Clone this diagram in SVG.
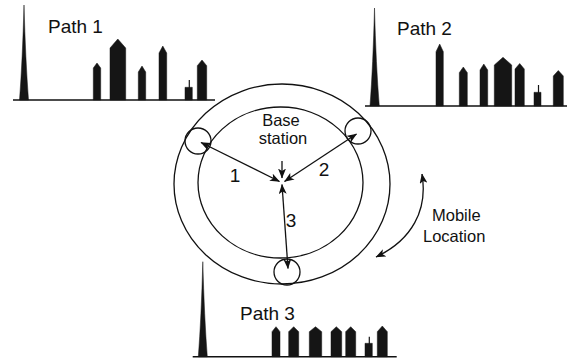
<svg xmlns="http://www.w3.org/2000/svg" width="577" height="362" viewBox="0 0 577 362">
  <style>
    .lbl { font-family: "Liberation Sans", Arial, Helvetica, sans-serif; fill: #111; }
    .ring { fill: none; stroke: #111; stroke-width: 1.3; }
    .axis { stroke: #111; stroke-width: 1.6; fill: none; }
    .pulse { fill: #151515; stroke: #151515; stroke-width: 0.5; stroke-linejoin: round; }
    .tick { stroke: #151515; stroke-width: 1.2; }
    .conn { fill: none; stroke: #111; stroke-width: 1.3; }
  </style>
  <defs>
    <marker id="head" viewBox="0 0 10 8" refX="9.5" refY="4" markerWidth="10" markerHeight="8" markerUnits="userSpaceOnUse" orient="auto-start-reverse">
      <path d="M0,0 L10,4 L0,8 L2.5,4 Z" fill="#111"/>
    </marker>
  </defs>

  <rect width="577" height="362" fill="#fff"/>

  <!-- coverage ring around the base station -->
  <g id="ring">
    <ellipse class="ring" cx="282" cy="184" rx="108" ry="100"/>
    <ellipse class="ring" cx="280.5" cy="182.5" rx="82.5" ry="75.5"/>
  </g>

  <!-- power delay profile, path 1 -->
  <g id="path1">
    <line class="axis" x1="13" y1="100" x2="215" y2="100"/>
    <path class="pulse" d="M19.5,100 Q22.5,60 24,5 Q25.5,60 28.5,100 Z"/>
    <path class="pulse" d="M93.3,100 V68 L97,63 L100.7,68 V100 Z"/>
    <path class="pulse" d="M110,100 V48 L117.8,39 L125.7,48 V100 Z"/>
    <path class="pulse" d="M138.3,100 V72 L142,66 L145.7,72 V100 Z"/>
    <path class="pulse" d="M159,100 V53 L162.8,46 L166.7,53 V100 Z"/>
    <rect class="pulse" x="185" y="87.3" width="7.3" height="12.7"/>
    <line class="tick" x1="189.3" y1="80" x2="189.3" y2="88"/>
    <path class="pulse" d="M197.3,100 V65.7 L202,60 L206.7,65.7 V100 Z"/>
    <text class="lbl" x="48" y="33" font-size="19">Path 1</text>
  </g>

  <!-- power delay profile, path 2 -->
  <g id="path2">
    <line class="axis" x1="365" y1="106" x2="567" y2="106"/>
    <path class="pulse" d="M370,106 Q373,66 374.5,8 Q376,66 379.3,106 Z"/>
    <path class="pulse" d="M436,106 V51.7 L439.7,44 L443.3,51.7 V106 Z"/>
    <path class="pulse" d="M459.3,106 V72.7 L463.3,67 L467.3,72.7 V106 Z"/>
    <path class="pulse" d="M480,106 V70 L483.8,64 L487.7,70 V106 Z"/>
    <path class="pulse" d="M494.3,106 V65 L503,57.3 L511.7,65 V106 Z"/>
    <path class="pulse" d="M515,106 V69 L519.7,63.5 L524.3,69 V106 Z"/>
    <rect class="pulse" x="534" y="92.3" width="7" height="13.7"/>
    <line class="tick" x1="538.5" y1="85" x2="538.5" y2="93"/>
    <path class="pulse" d="M553.3,106 V76 L558.3,70.5 L563.3,76 V106 Z"/>
    <text class="lbl" x="397" y="35" font-size="19">Path 2</text>
  </g>

  <!-- power delay profile, path 3 -->
  <g id="path3">
    <line class="axis" x1="192.7" y1="356.7" x2="396.7" y2="356.7"/>
    <path class="pulse" d="M198.3,356.7 Q201.3,318 202.8,261.7 Q204.3,318 207.3,356.7 Z"/>
    <path class="pulse" d="M272,356.7 V331.7 L276,326.7 L280,331.7 V356.7 Z"/>
    <path class="pulse" d="M288.7,356.7 V331.7 L293.7,326.7 L298.7,331.7 V356.7 Z"/>
    <path class="pulse" d="M309.3,356.7 V331.7 L315.5,326.7 L321.7,331.7 V356.7 Z"/>
    <path class="pulse" d="M331,356.7 V331.7 L336.3,326.7 L341.7,331.7 V356.7 Z"/>
    <path class="pulse" d="M345.7,356.7 V331.7 L350.7,326.7 L355.7,331.7 V356.7 Z"/>
    <rect class="pulse" x="365" y="343.3" width="7.3" height="13.4"/>
    <line class="tick" x1="369.3" y1="336.7" x2="369.3" y2="344"/>
    <path class="pulse" d="M377.3,356.7 V331.7 L382.3,326 L387.3,331.7 V356.7 Z"/>
    <text class="lbl" x="240" y="320" font-size="19">Path 3</text>
  </g>

  <!-- mobile positions on the ring -->
  <g id="mobile1"><circle class="ring" cx="198" cy="141" r="13"/></g>
  <g id="mobile2"><circle class="ring" cx="358" cy="131" r="13"/></g>
  <g id="mobile3"><circle class="ring" cx="287" cy="272" r="13"/></g>

  <!-- base station label -->
  <g id="base-station">
    <text class="lbl" x="281" y="126" font-size="16.5" text-anchor="middle">Base</text>
    <text class="lbl" x="283" y="144" font-size="16.5" text-anchor="middle">station</text>
  </g>

  <!-- mobile location label -->
  <g id="mobile-location">
    <text class="lbl" x="432" y="220.5" font-size="16.5">Mobile</text>
    <text class="lbl" x="423" y="241.5" font-size="16.5">Location</text>
  </g>

  <!-- links between base station and mobiles -->
  <g id="connectors">
    <line class="conn" x1="201" y1="142.5" x2="279.5" y2="181.5" marker-start="url(#head)" marker-end="url(#head)"/>
    <line class="conn" x1="356.5" y1="134" x2="284.5" y2="181.5" marker-start="url(#head)" marker-end="url(#head)"/>
    <line class="conn" x1="282" y1="184.5" x2="288" y2="268.5" marker-start="url(#head)" marker-end="url(#head)"/>
    <line class="conn" x1="282" y1="161" x2="282" y2="178" marker-end="url(#head)"/>
    <path class="conn" d="M422,174 C428,210 412,240 376,257" marker-start="url(#head)" marker-end="url(#head)"/>
    <text class="lbl" x="235" y="182" font-size="19" text-anchor="middle">1</text>
    <text class="lbl" x="324" y="176" font-size="19" text-anchor="middle">2</text>
    <text class="lbl" x="291" y="227" font-size="19" text-anchor="middle">3</text>
  </g>
</svg>
